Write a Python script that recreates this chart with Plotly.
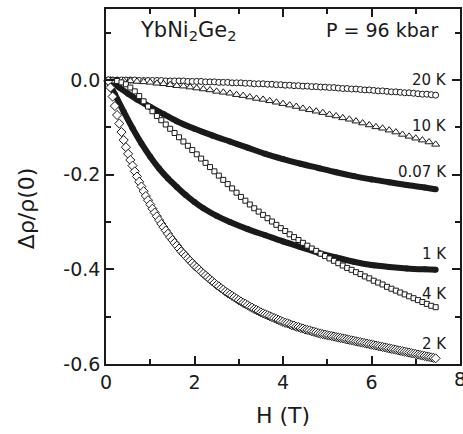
import plotly.graph_objects as go

# Magnetoresistance of YbNi2Ge2 at P = 96 kbar: field H (T) vs Δρ/ρ(0)

# 20 K (open circles)
H_20K = [0.05, 0.15, 0.25, 0.35, 0.45, 0.55, 0.65, 0.75, 0.85, 0.95,
         1.05, 1.15, 1.25, 1.35, 1.45, 1.55, 1.65, 1.75, 1.85, 1.95,
         2.05, 2.15, 2.25, 2.35, 2.45, 2.55, 2.65, 2.75, 2.85, 2.95,
         3.05, 3.15, 3.25, 3.35, 3.45, 3.55, 3.65, 3.75, 3.85, 3.95,
         4.05, 4.15, 4.25, 4.35, 4.45, 4.55, 4.65, 4.75, 4.85, 4.95,
         5.05, 5.15, 5.25, 5.35, 5.45, 5.55, 5.65, 5.75, 5.85, 5.95,
         6.05, 6.15, 6.25, 6.35, 6.45, 6.55, 6.65, 6.75, 6.85, 6.95,
         7.05, 7.15, 7.25, 7.35, 7.45]
R_20K = [0.000, 0.000, 0.000, 0.000, 0.000, 0.000, 0.000, -0.001, -0.001, -0.001,
         -0.001, -0.001, -0.001, -0.002, -0.002, -0.002, -0.002, -0.002, -0.003, -0.003,
         -0.003, -0.003, -0.004, -0.004, -0.004, -0.005, -0.005, -0.005, -0.006, -0.006,
         -0.006, -0.007, -0.007, -0.008, -0.008, -0.008, -0.009, -0.009, -0.010, -0.010,
         -0.011, -0.011, -0.012, -0.012, -0.013, -0.013, -0.014, -0.014, -0.015, -0.015,
         -0.016, -0.016, -0.017, -0.018, -0.018, -0.019, -0.019, -0.020, -0.021, -0.021,
         -0.022, -0.023, -0.023, -0.024, -0.025, -0.025, -0.026, -0.027, -0.027, -0.028,
         -0.029, -0.030, -0.030, -0.031, -0.032]

# 10 K (open triangles)
H_10K = [0.10, 0.25, 0.40, 0.55, 0.70, 0.85, 1.00, 1.15, 1.30, 1.45,
         1.60, 1.75, 1.90, 2.05, 2.20, 2.35, 2.50, 2.65, 2.80, 2.95,
         3.10, 3.25, 3.40, 3.55, 3.70, 3.85, 4.00, 4.15, 4.30, 4.45,
         4.60, 4.75, 4.90, 5.05, 5.20, 5.35, 5.50, 5.65, 5.80, 5.95,
         6.10, 6.25, 6.40, 6.55, 6.70, 6.85, 7.00, 7.15, 7.30, 7.45]
R_10K = [0.000, -0.001, -0.001, -0.002, -0.003, -0.004, -0.005, -0.007, -0.008, -0.010,
         -0.012, -0.013, -0.015, -0.017, -0.019, -0.021, -0.024, -0.026, -0.028, -0.031,
         -0.033, -0.036, -0.039, -0.041, -0.044, -0.047, -0.050, -0.053, -0.056, -0.060,
         -0.063, -0.066, -0.069, -0.073, -0.076, -0.080, -0.083, -0.087, -0.091, -0.095,
         -0.099, -0.102, -0.106, -0.110, -0.115, -0.119, -0.123, -0.127, -0.131, -0.136]

# 4 K (open squares)
H_4K = list(H_20K)
R_4K = [0.000, -0.001, -0.002, -0.005, -0.009, -0.016, -0.024, -0.034, -0.045, -0.056,
        -0.066, -0.076, -0.085, -0.094, -0.103, -0.112, -0.121, -0.130, -0.139, -0.148,
        -0.157, -0.166, -0.175, -0.184, -0.193, -0.202, -0.211, -0.220, -0.229, -0.238,
        -0.247, -0.255, -0.263, -0.271, -0.278, -0.285, -0.292, -0.299, -0.306, -0.313,
        -0.319, -0.326, -0.332, -0.338, -0.344, -0.350, -0.356, -0.361, -0.367, -0.372,
        -0.377, -0.382, -0.387, -0.392, -0.397, -0.401, -0.406, -0.410, -0.415, -0.419,
        -0.424, -0.428, -0.432, -0.437, -0.441, -0.445, -0.449, -0.453, -0.457, -0.461,
        -0.465, -0.469, -0.473, -0.477, -0.480]

# 2 K (open diamonds)
H_2K = [0.05, 0.10, 0.15, 0.20, 0.25, 0.30, 0.35, 0.40, 0.45, 0.50,
        0.55, 0.60, 0.65, 0.70, 0.75, 0.80, 0.85, 0.90, 0.95, 1.00,
        1.05, 1.10, 1.15, 1.20, 1.25, 1.30, 1.35, 1.40, 1.45, 1.50,
        1.55, 1.60, 1.65, 1.70, 1.75, 1.80, 1.85, 1.90, 1.95, 2.00,
        2.05, 2.10, 2.15, 2.20, 2.25, 2.30, 2.35, 2.40, 2.45, 2.50,
        2.55, 2.60, 2.65, 2.70, 2.75, 2.80, 2.85, 2.90, 2.95, 3.00,
        3.05, 3.10, 3.15, 3.20, 3.25, 3.30, 3.35, 3.40, 3.45, 3.50,
        3.55, 3.60, 3.65, 3.70, 3.75, 3.80, 3.85, 3.90, 3.95, 4.00,
        4.05, 4.10, 4.15, 4.20, 4.25, 4.30, 4.35, 4.40, 4.45, 4.50,
        4.55, 4.60, 4.65, 4.70, 4.75, 4.80, 4.85, 4.90, 4.95, 5.00,
        5.05, 5.10, 5.15, 5.20, 5.25, 5.30, 5.35, 5.40, 5.45, 5.50,
        5.55, 5.60, 5.65, 5.70, 5.75, 5.80, 5.85, 5.90, 5.95, 6.00,
        6.05, 6.10, 6.15, 6.20, 6.25, 6.30, 6.35, 6.40, 6.45, 6.50,
        6.55, 6.60, 6.65, 6.70, 6.75, 6.80, 6.85, 6.90, 6.95, 7.00,
        7.05, 7.10, 7.15, 7.20, 7.25, 7.30, 7.35, 7.40, 7.45]
R_2K = [-0.002, -0.016, -0.035, -0.055, -0.074, -0.092, -0.110, -0.127, -0.142, -0.156,
        -0.169, -0.181, -0.193, -0.204, -0.215, -0.225, -0.235, -0.245, -0.254, -0.263,
        -0.272, -0.280, -0.288, -0.296, -0.304, -0.311, -0.318, -0.325, -0.332, -0.338,
        -0.344, -0.350, -0.356, -0.362, -0.367, -0.372, -0.377, -0.382, -0.387, -0.392,
        -0.396, -0.400, -0.405, -0.409, -0.413, -0.417, -0.421, -0.425, -0.429, -0.433,
        -0.436, -0.440, -0.443, -0.447, -0.450, -0.453, -0.456, -0.459, -0.462, -0.465,
        -0.468, -0.471, -0.473, -0.476, -0.479, -0.481, -0.484, -0.486, -0.488, -0.491,
        -0.493, -0.495, -0.497, -0.499, -0.501, -0.503, -0.505, -0.507, -0.509, -0.511,
        -0.513, -0.514, -0.516, -0.518, -0.519, -0.521, -0.522, -0.524, -0.525, -0.527,
        -0.528, -0.529, -0.531, -0.532, -0.533, -0.535, -0.536, -0.537, -0.538, -0.539,
        -0.540, -0.541, -0.542, -0.543, -0.544, -0.545, -0.546, -0.547, -0.548, -0.549,
        -0.550, -0.551, -0.552, -0.553, -0.554, -0.555, -0.556, -0.557, -0.558, -0.559,
        -0.560, -0.561, -0.562, -0.563, -0.564, -0.565, -0.566, -0.567, -0.568, -0.569,
        -0.570, -0.571, -0.572, -0.573, -0.574, -0.575, -0.576, -0.577, -0.578, -0.579,
        -0.580, -0.581, -0.582, -0.583, -0.584, -0.585, -0.586, -0.587, -0.588]

# 0.07 K and 1 K (dense data, drawn as thick solid curves)
H_007K = [0.05, 0.1, 0.3, 0.5, 0.7, 1.0, 1.3, 1.6, 2.0, 2.4, 2.8, 3.2,
          3.6, 4.0, 4.4, 4.8, 5.2, 5.6, 6.0, 6.4, 6.8, 7.2, 7.45]
R_007K = [0.000, -0.004, -0.016, -0.029, -0.041, -0.057, -0.072, -0.087, -0.103, -0.117, -0.130, -0.143,
          -0.156, -0.167, -0.177, -0.186, -0.195, -0.203, -0.210, -0.216, -0.222, -0.227, -0.231]

H_1K = [0.05, 0.1, 0.2, 0.4, 0.6, 0.8, 1.0, 1.2, 1.4, 1.6, 1.8, 2.0, 2.2, 2.5,
        2.8, 3.2, 3.6, 4.0, 4.4, 4.8, 5.2, 5.6, 6.0, 6.4, 6.8, 7.2, 7.45]
R_1K = [0.000, -0.012, -0.030, -0.067, -0.102, -0.134, -0.162, -0.187, -0.208, -0.226, -0.243, -0.258, -0.271, -0.287,
        -0.300, -0.315, -0.328, -0.341, -0.353, -0.365, -0.375, -0.384, -0.391, -0.395, -0.398, -0.400, -0.401]

X_TICKS = [0, 2, 4, 6, 8]
X_MINOR = [1, 3, 5, 7]
Y_TICKS = [-0.6, -0.4, -0.2, 0.0]
Y_TICKTEXT = ["-0.6", "-0.4", "-0.2", "0.0"]
Y_MINOR = [-0.5, -0.3, -0.1, 0.1]

FONT = "DejaVu Sans"
INK = "#1a1a1a"

fig = go.Figure()

# thick curves
for hx, ry in [(H_007K, R_007K), (H_1K, R_1K)]:
    fig.add_trace(go.Scatter(
        x=hx, y=ry, mode="lines+markers",
        line=dict(color=INK, width=6, shape="spline", smoothing=0.8),
        marker=dict(color=INK, size=6),
        cliponaxis=False, showlegend=False, hoverinfo="skip",
    ))

# open-symbol curves
marker_sets = [
    (H_20K, R_20K, "circle", 6),
    (H_10K, R_10K, "triangle-up", 7),
    (H_4K, R_4K, "square", 5),
    (H_2K, R_2K, "diamond", 7),
]
for hx, ry, sym, sz in marker_sets:
    fig.add_trace(go.Scatter(
        x=hx, y=ry, mode="markers",
        marker=dict(symbol=sym, size=sz, color="white",
                    line=dict(color=INK, width=1)),
        cliponaxis=False, showlegend=False, hoverinfo="skip",
    ))

axis_common = dict(
    showline=True, linecolor=INK, linewidth=1.5, mirror="allticks",
    ticks="inside", ticklen=8, tickwidth=1.5, tickcolor=INK,
    showgrid=False, zeroline=False, automargin=False,
    tickfont=dict(family=FONT, size=19, color=INK),
)

# the last x label sits on the page edge, so it is drawn as an annotation
fig.update_xaxes(
    range=[0, 8], tickvals=X_TICKS[:-1], ticktext=[str(v) for v in X_TICKS[:-1]],
    minor=dict(tickvals=X_MINOR + [X_TICKS[-1]], ticks="inside", ticklen=8,
               tickwidth=1.5, tickcolor=INK),
    **axis_common,
)
fig.update_xaxes(minor=dict(tickvals=X_MINOR, ticklen=5))
fig.update_yaxes(
    range=[-0.6, 0.15], tickvals=Y_TICKS, ticktext=Y_TICKTEXT,
    minor=dict(tickvals=Y_MINOR, ticks="inside", ticklen=5, tickwidth=1.5, tickcolor=INK),
    **axis_common,
)

labels = [
    ("20 K", 0.001),
    ("10 K", -0.097),
    ("0.07 K", -0.195),
    ("1 K", -0.368),
    ("4 K", -0.452),
    ("2 K", -0.558),
]
annotations = [
    dict(x=7.75, y=yv, xref="x", yref="y", text=t, showarrow=False,
         xanchor="right", yanchor="middle",
         font=dict(family=FONT, size=15, color=INK))
    for t, yv in labels
]
annotations += [
    dict(x=X_TICKS[-1], y=-0.042, xref="x", yref="paper", text=str(X_TICKS[-1]),
         showarrow=False, xanchor="center", yanchor="middle",
         font=dict(family=FONT, size=19, color=INK)),
    dict(x=0.72, y=0.103, xref="x", yref="y",
         text="YbNi<sub>2</sub>Ge<sub>2</sub>", showarrow=False,
         xanchor="left", yanchor="middle",
         font=dict(family=FONT, size=21, color=INK)),
    dict(x=7.55, y=0.105, xref="x", yref="y", text="P = 96 kbar",
         showarrow=False, xanchor="right", yanchor="middle",
         font=dict(family=FONT, size=19, color=INK)),
    dict(x=0.5, y=-0.145, xref="paper", yref="paper", text="H (T)",
         showarrow=False, xanchor="center", yanchor="middle",
         font=dict(family=FONT, size=22, color=INK)),
    dict(x=-0.225, y=0.44, xref="paper", yref="paper", text="Δρ/ρ(0)",
         textangle=-90, showarrow=False, xanchor="center", yanchor="middle",
         font=dict(family=FONT, size=22, color=INK)),
]

fig.update_layout(
    width=463, height=434,
    margin=dict(l=106, r=3, t=9, b=70),
    paper_bgcolor="white", plot_bgcolor="white",
    annotations=annotations,
    showlegend=False,
)

fig.write_html("out.html")
